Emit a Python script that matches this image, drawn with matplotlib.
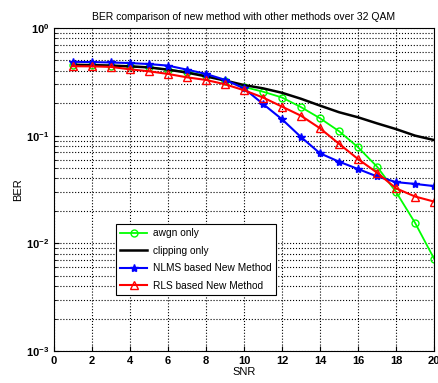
import matplotlib
matplotlib.use("Agg")
import matplotlib.pyplot as plt
import numpy as np

plt.rcParams['font.family'] = ['Liberation Sans', 'DejaVu Sans']

snr = np.arange(1, 21)
awgn = [0.45, 0.45, 0.447, 0.44, 0.43, 0.41, 0.39, 0.36, 0.325, 0.283,
        0.256, 0.226, 0.184, 0.145, 0.11, 0.078, 0.0515, 0.030, 0.0155, 0.0072]
clipping = [0.455, 0.452, 0.447, 0.44, 0.43, 0.41, 0.385, 0.355, 0.325, 0.295,
            0.275, 0.25, 0.22, 0.19, 0.165, 0.148, 0.13, 0.115, 0.10, 0.091]
nlms = [0.485, 0.482, 0.478, 0.472, 0.462, 0.447, 0.41, 0.374, 0.33, 0.275,
        0.197, 0.142, 0.097, 0.0685, 0.0573, 0.049, 0.0418, 0.037, 0.0356, 0.034]
rls = [0.441, 0.44, 0.435, 0.413, 0.396, 0.374, 0.348, 0.329, 0.30, 0.264,
       0.226, 0.186, 0.153, 0.117, 0.084, 0.0606, 0.0453, 0.0324, 0.0272, 0.0244]

fig = plt.figure(figsize=(4.38, 3.83), dpi=100)
ax = fig.add_axes([0.123, 0.0836, 0.868, 0.8434])

ax.semilogy(snr, awgn, '-o', color='#00ff00', mfc='none', ms=5, lw=1.3, label='awgn only')
ax.semilogy(snr, clipping, '-', color='black', lw=1.8, label='clipping only')
ax.semilogy(snr, nlms, '-*', color='blue', ms=6, lw=1.5, label='NLMS based New Method')
ax.semilogy(snr, rls, '-^', color='red', mfc='none', ms=6, lw=1.5, label='RLS based New Method')

ax.set_xlim(0, 20)
ax.set_ylim(1e-3, 1)
ax.set_xticks(np.arange(0, 21, 2))
ax.grid(True, which='major', ls=':', color='black', lw=0.8)
ax.grid(True, which='minor', axis='y', ls=':', color='black', lw=0.8)
ax.tick_params(which='both', direction='in', labelsize=8)
for lab in ax.get_xticklabels() + ax.get_yticklabels():
    lab.set_fontweight('bold')

ax.set_title('BER comparison of new method with other methods over 32 QAM', fontsize=7.5)
ax.set_xlabel('SNR', fontsize=8, labelpad=1)
ax.set_ylabel('BER', fontsize=8, labelpad=2)

leg = ax.legend(loc='upper left', bbox_to_anchor=(0.163, 0.393), borderaxespad=0,
                fontsize=7.3, fancybox=False, edgecolor='black', framealpha=1,
                handlelength=2.7, labelspacing=0.75, handletextpad=0.6)
leg.get_frame().set_linewidth(0.8)

fig.savefig('out.png', dpi=100)
